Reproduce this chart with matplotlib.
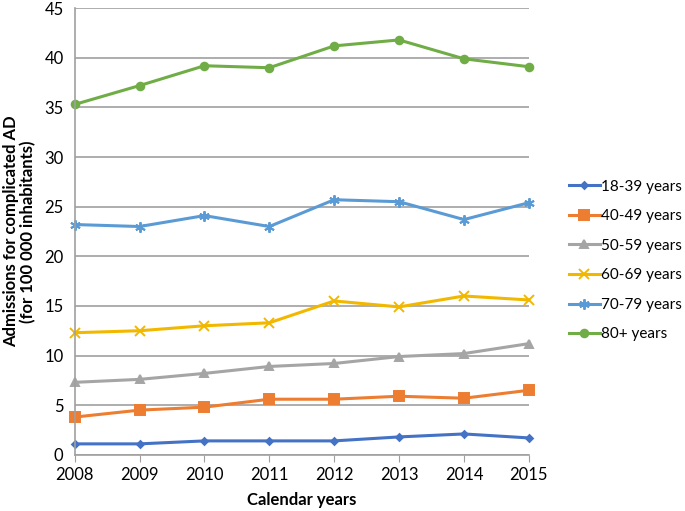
import matplotlib.pyplot as plt

years = [2008, 2009, 2010, 2011, 2012, 2013, 2014, 2015]
age_18_39 = [1.1, 1.1, 1.4, 1.4, 1.4, 1.8, 2.1, 1.7]
age_40_49 = [3.8, 4.5, 4.8, 5.6, 5.6, 5.9, 5.7, 6.5]
age_50_59 = [7.3, 7.6, 8.2, 8.9, 9.2, 9.9, 10.2, 11.2]
age_60_69 = [12.3, 12.5, 13.0, 13.3, 15.5, 14.9, 16.0, 15.6]
age_70_79 = [23.2, 23.0, 24.1, 23.0, 25.7, 25.5, 23.7, 25.4]
age_80_plus = [35.3, 37.2, 39.2, 39.0, 41.2, 41.8, 39.9, 39.1]

labels = ['18-39 years', '40-49 years', '50-59 years', '60-69 years', '70-79 years', '80+ years']
colors = ['#4472C4', '#ED7D31', '#A5A5A5', '#F2B800', '#5B9BD5', '#70AD47']
markers = ['D', 's', '^', 'x', (6, 2, 0), 'o']
msizes = [3.5, 6.5, 5.5, 6.5, 7.5, 5.5]

plt.rcParams['font.family'] = ['Lato', 'DejaVu Sans']

fig = plt.figure(figsize=(6.85, 5.11), dpi=100)
ax = fig.add_axes([0.109, 0.110, 0.663, 0.874])

series = [age_18_39, age_40_49, age_50_59, age_60_69, age_70_79, age_80_plus]
for vals, lab, col, mk, ms in zip(series, labels, colors, markers, msizes):
    ax.plot(years, vals, color=col, lw=2.2, marker=mk, markersize=ms,
            markeredgewidth=1.4, label=lab, clip_on=False)

ax.set_xlim(2008, 2015)
ax.set_ylim(0, 45)
ax.set_yticks(range(0, 46, 5))
ax.set_xticks(years)
ax.grid(axis='y', color='#A0A0A0', lw=1.2)
ax.set_axisbelow(True)
for s in ['top', 'right']:
    ax.spines[s].set_visible(False)
ax.spines['left'].set_color('#A0A0A0')
ax.spines['bottom'].set_color('#A0A0A0')
ax.spines['left'].set_linewidth(1.2)
ax.spines['bottom'].set_linewidth(1.2)
ax.tick_params(axis='y', length=0, labelsize=12, pad=8)
ax.tick_params(axis='x', length=5, color='#A0A0A0', labelsize=12, pad=4)

ax.set_xlabel('Calendar years', fontsize=12, fontweight='bold', labelpad=6)
ax.set_ylabel('Admissions for complicated AD\n(for 100 000 inhabitants)',
              fontsize=12, fontweight='bold', labelpad=6, linespacing=1.05)

ax.legend(loc='center left', bbox_to_anchor=(1.075, 0.435), frameon=False,
          fontsize=11, handlelength=2.0, labelspacing=1.02, handletextpad=0.1,
          borderaxespad=0)

plt.savefig('out.png', dpi=100)
